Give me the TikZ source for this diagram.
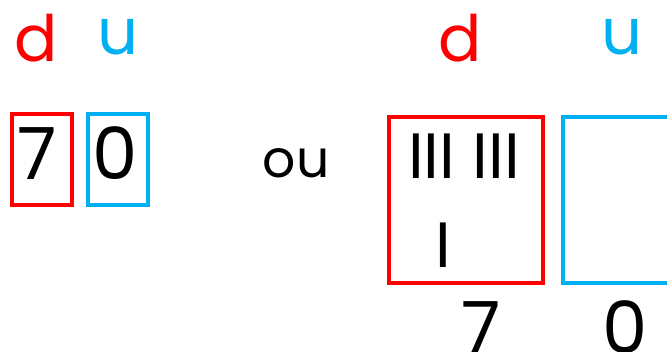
\documentclass[tikz,border=0pt]{standalone}
\usepackage{fontspec}
\setmainfont{Poppins}
\usetikzlibrary{positioning}
\definecolor{dred}{RGB}{255,0,0}
\definecolor{ublue}{RGB}{0,176,240}

\begin{document}
\begin{tikzpicture}[x=1pt,y=-1pt,on grid,
   lab/.style={font=\fontsize{64}{64}\selectfont,anchor=base,inner sep=0pt},
   digit/.style={font=\fontsize{72}{72}\selectfont,anchor=base,inner sep=0pt},
   tally/.style={font=\fontsize{64}{64}\selectfont,anchor=base,inner sep=0pt},
   box/.style={draw,line width=3.2pt,inner sep=0pt}]
   \useasboundingbox (0,0) rectangle (667,351);
   \clip (0,0) rectangle (667,351);
   % left: digits in small boxes
   \node[lab,dred] (d_l) at (36,61) {d};
   \node[lab,ublue] (u_l) [right=82pt of d_l] {u};
   \node[box,dred,minimum width=60pt,minimum height=91pt] (b_d) at (42,159.5) {};
   \node[box,ublue,minimum width=60pt,minimum height=91pt] (b_u) [right=76pt of b_d] {};
   \node[digit] (n7) at (37,179) {7};
   \node[digit] (n0) [right=78pt of n7] {0};
   \node[lab,font=\fontsize{52}{52}\selectfont] (ou) at (296,177) {ou};
   % right: tally in big boxes
   \node[lab,dred] (d_r) at (460,61) {d};
   \node[lab,ublue] (u_r) [right=162pt of d_r] {u};
   \node[box,dred,minimum width=154pt,minimum height=166pt] (B_d) at (466,200) {};
   \node[box,ublue,minimum width=154pt,minimum height=166pt] (B_u) [right=174pt of B_d] {};
   \node[tally] (t6) at (464,178) {III III};
   \node[tally] (t1) at (443,267) {I};
   \node[digit] (m7) at (481,353) {7};
   \node[digit] (m0) [right=144pt of m7] {0};
\end{tikzpicture}
\end{document}
